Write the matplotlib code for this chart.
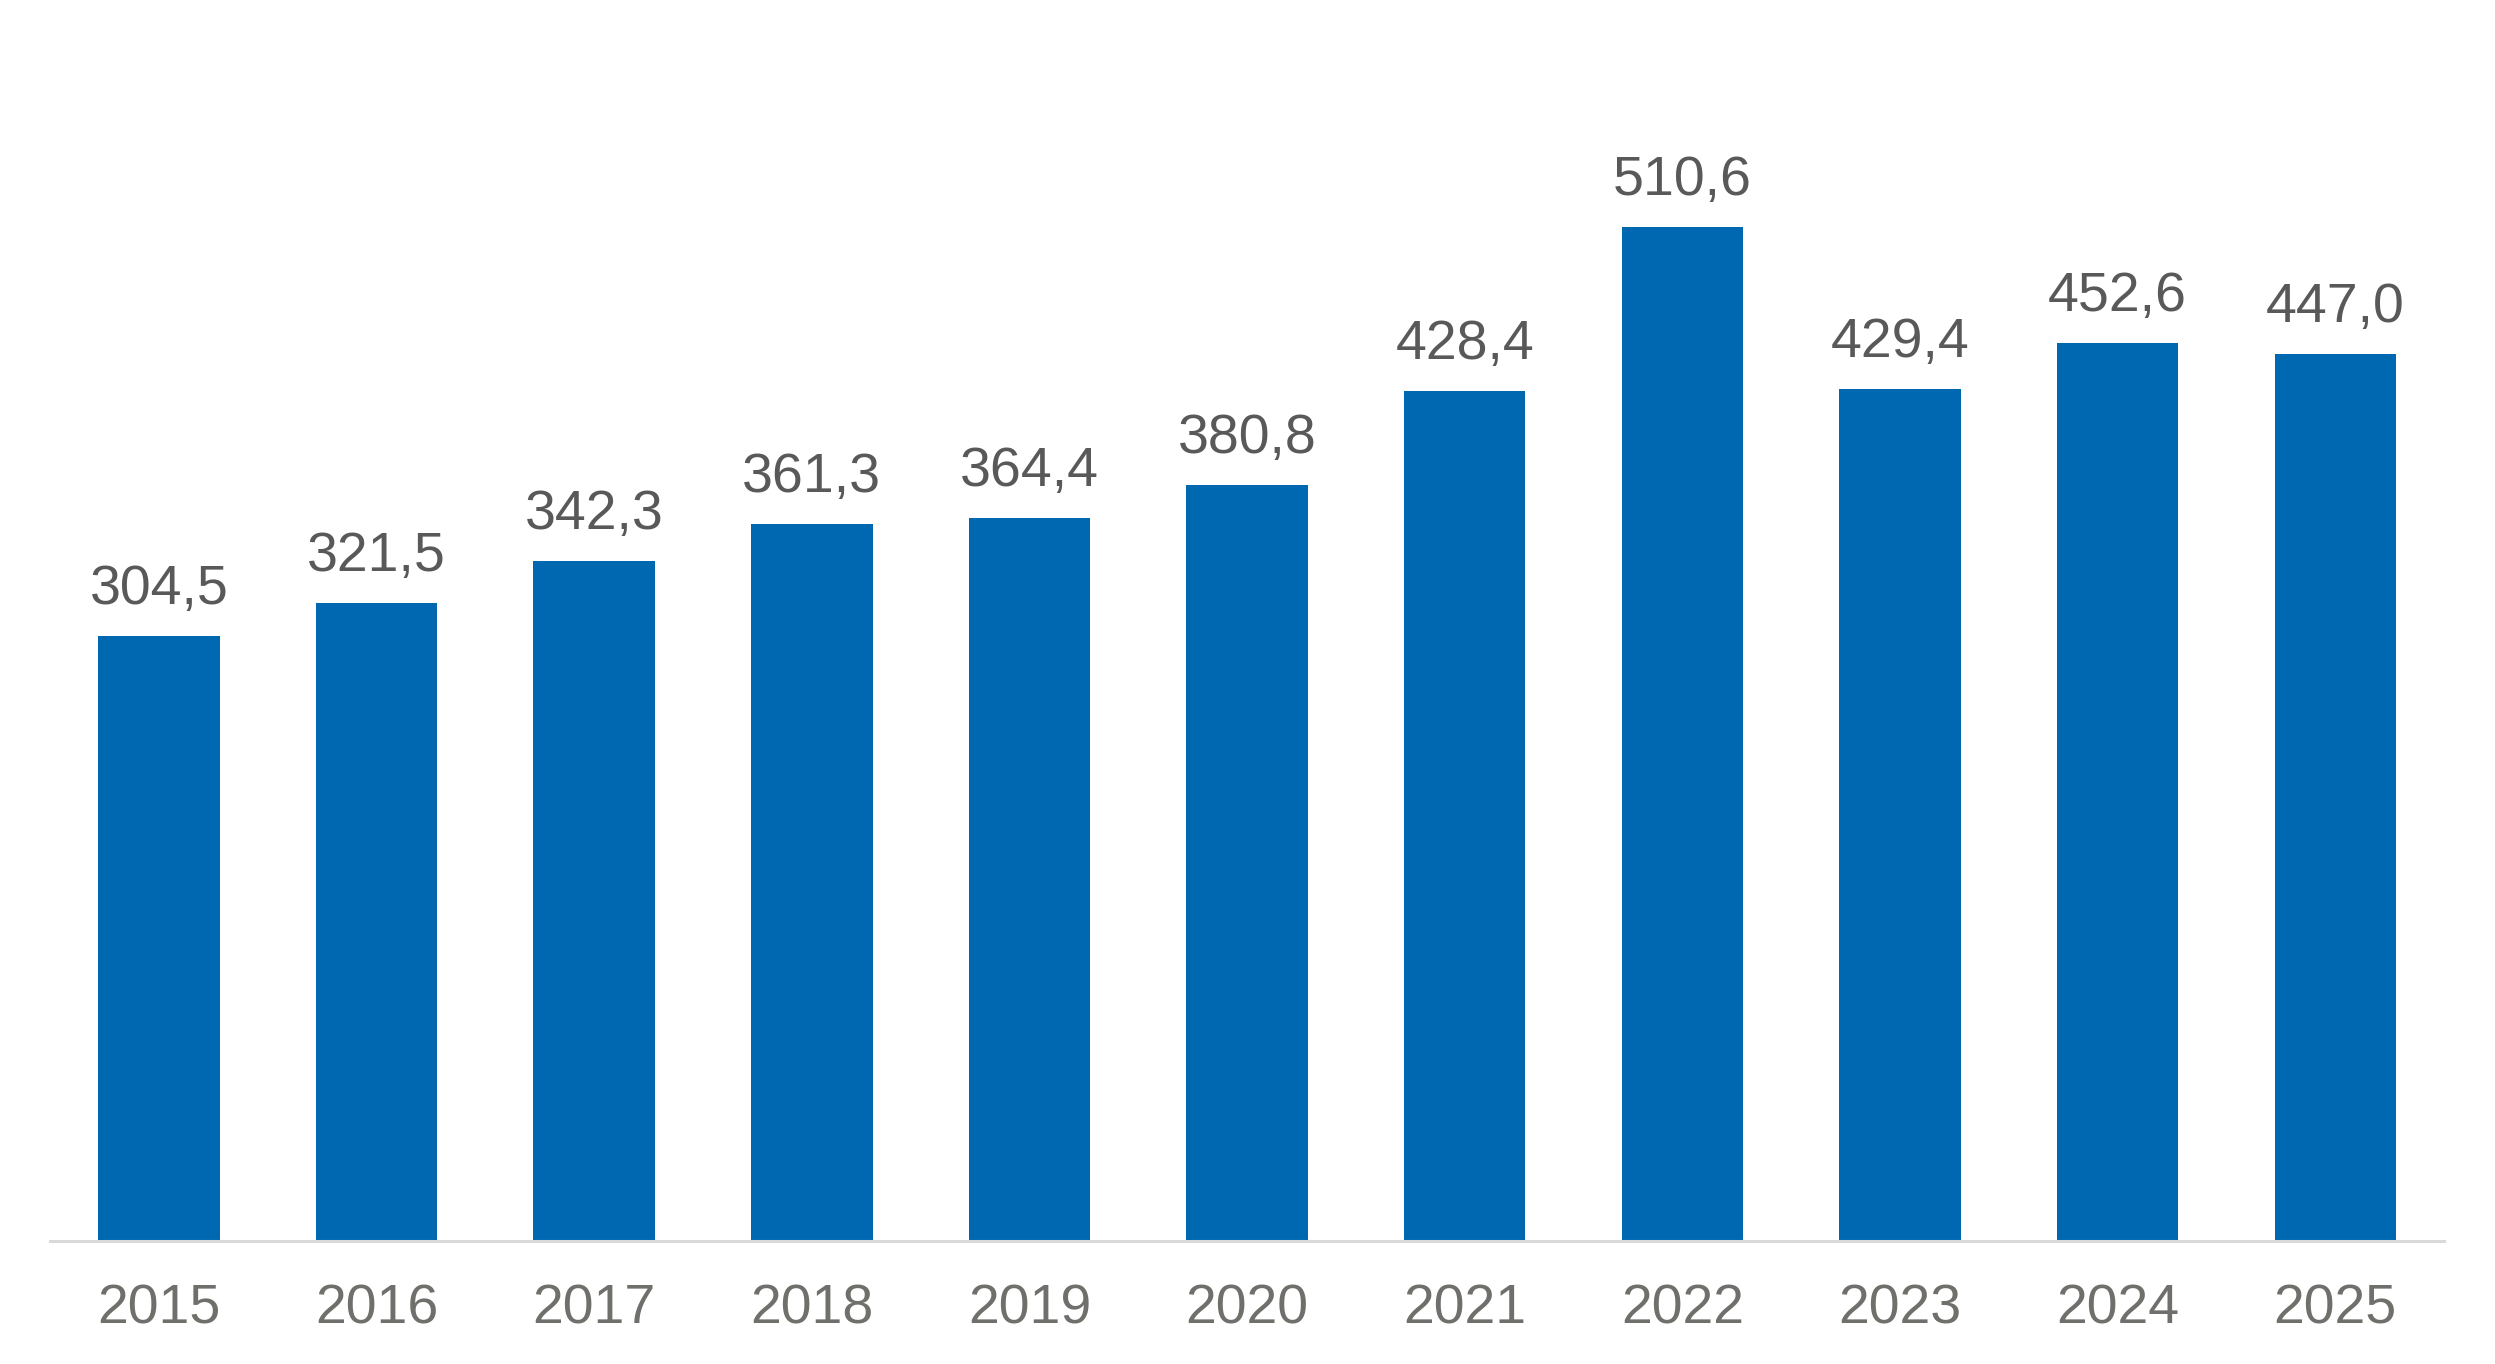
import matplotlib.pyplot as plt

years = ['2015', '2016', '2017', '2018', '2019', '2020', '2021', '2022', '2023', '2024', '2025']
values = [304.5, 321.5, 342.3, 361.3, 364.4, 380.8, 428.4, 510.6, 429.4, 452.6, 447.0]

plt.rcParams['font.family'] = ['Liberation Sans', 'DejaVu Sans']

fig = plt.figure(figsize=(24.95, 13.64), dpi=100)
ax = fig.add_axes([0.02004, 0.0905, 0.9596, 0.8728])

x = range(len(years))
ax.bar(x, values, width=0.558, color='#0067B1', zorder=2)

for i, v in enumerate(values):
    ax.annotate(f'{v:.1f}'.replace('.', ','), (i, v), xytext=(0, 23),
                textcoords='offset points', ha='center', va='baseline',
                fontsize=40, color='#595959')

ax.set_xlim(-0.5, len(years) - 0.5)
ax.set_ylim(0, 600)
ax.set_xticks(list(x))
ax.set_xticklabels(years)
ax.tick_params(axis='x', length=0, pad=31, labelsize=40, labelcolor='#6F6F6B')
ax.set_yticks([])

for s in ['top', 'right', 'left']:
    ax.spines[s].set_visible(False)
ax.spines['bottom'].set_color('#D9D9D9')
ax.spines['bottom'].set_linewidth(2.2)
ax.spines['bottom'].set_zorder(3)

plt.savefig('out.png', dpi=100)
